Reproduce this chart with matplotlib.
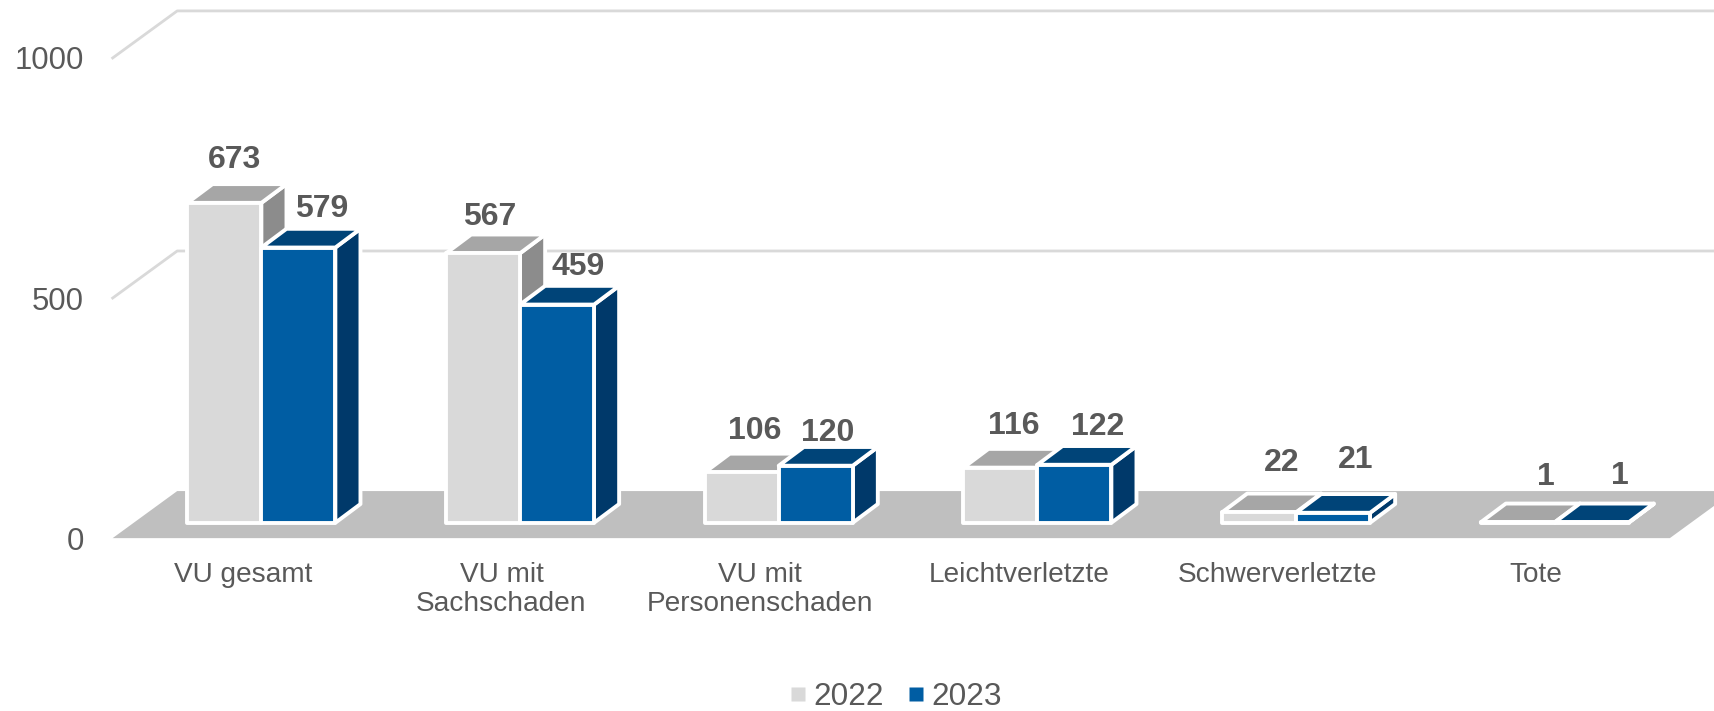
import matplotlib
matplotlib.use("Agg")
import matplotlib.pyplot as plt
from matplotlib.patches import Polygon
from matplotlib.lines import Line2D

categories = ["VU gesamt", "VU mit\nSachschaden", "VU mit\nPersonenschaden",
              "Leichtverletzte", "Schwerverletzte", "Tote"]
values_2022 = [673, 567, 106, 116, 22, 1]
values_2023 = [579, 459, 120, 122, 21, 1]
series_names = ["2022", "2023"]
y_ticks = [0, 500, 1000]

# label nudges (pixels of the figure, x right / y up from bar top centre)
S = 1715 / 1568
off_2022 = [(9, 39.5), (6, 33.5), (11.5, 37.5), (12, 38.5), (21, 45.5), (26, 41.5)]
off_2023 = [(21, 35.5), (19, 34.5), (11, 29.5), (21, 34.5), (21, 48.5), (26, 42.5)]

plt.rcParams["font.family"] = ["Liberation Sans", "DejaVu Sans"]
TXT = "#595959"
W, H = 1715, 711
fig = plt.figure(figsize=(W / 100, H / 100), dpi=100, facecolor="white")
left, right = 103 * S, W
bottom, top = 492 * S, 53 * S
ax = fig.add_axes([left / W, 1 - bottom / H, (right - left) / W, (bottom - top) / H])
step = 236.5 * S
ax.set_xlim(-0.503, -0.503 + (right - left) / step)
ax.set_ylim(0, 1000)
for sp in ax.spines.values():
    sp.set_visible(False)
ax.patch.set_alpha(0)

FLOOR_W = 6.02
FLOOR_DX, FLOOR_DY = 0.2495, 98
BAR_DX, BAR_DY = 0.097, 39
BAR_W = 0.286
BASE = 32
BAR_K = 0.99
X_LEFT = [-0.214, 0.072]
x_min, x_max = ax.get_xlim()

# floor and wall gridlines
ax.add_patch(Polygon([(x_min, 0), (x_min + FLOOR_W, 0),
                      (x_min + FLOOR_W + FLOOR_DX, FLOOR_DY), (x_min + FLOOR_DX, FLOOR_DY)],
                     closed=True, fc="#BFBFBF", ec="none", clip_on=False, zorder=1))
for t in y_ticks[1:]:
    ax.plot([x_min, x_min + FLOOR_DX, x_max], [t, t + FLOOR_DY, t + FLOOR_DY],
            color="#D9D9D9", lw=2.0, clip_on=False, zorder=1)

styles = [("#D9D9D9", "#A6A6A6", "#8C8C8C"), ("#005DA3", "#004478", "#00396A")]
edge = dict(ec="white", lw=2.8, joinstyle="round", clip_on=False)

for i in range(len(categories)):
    for s, (vals, offs) in enumerate([(values_2022, off_2022), (values_2023, off_2023)]):
        x0 = i + X_LEFT[s]
        x1 = x0 + BAR_W
        y1 = BASE + BAR_K * vals[i]
        front, topc, side = styles[s]
        z = 3 + s
        ax.add_patch(Polygon([(x1, BASE), (x1 + BAR_DX, BASE + BAR_DY), (x1 + BAR_DX, y1 + BAR_DY), (x1, y1)],
                             closed=True, fc=side, zorder=z, **edge))
        ax.add_patch(Polygon([(x0, y1), (x1, y1), (x1 + BAR_DX, y1 + BAR_DY), (x0 + BAR_DX, y1 + BAR_DY)],
                             closed=True, fc=topc, zorder=z, **edge))
        ax.add_patch(Polygon([(x0, BASE), (x1, BASE), (x1, y1), (x0, y1)],
                             closed=True, fc=front, zorder=z, **edge))
        ax.annotate(str(vals[i]), xy=((x0 + x1) / 2, y1),
                    xytext=(offs[i][0] * S, offs[i][1] * S), textcoords="offset pixels",
                    ha="center", va="center", fontsize=23, fontweight="bold",
                    color=TXT, zorder=10, annotation_clip=False)

ax.set_yticks(y_ticks)
ax.set_xticks(range(len(categories)))
ax.set_xticklabels(categories, fontsize=20.2, color=TXT, linespacing=1.15)
ax.tick_params(axis="x", length=0, pad=17)
ax.tick_params(axis="y", length=0, pad=20.5, labelsize=22.4, labelcolor=TXT)

handles = [Line2D([], [], marker="s", ls="", ms=9.4, mfc=styles[k][0], mec="none") for k in range(2)]
fig.legend(handles, series_names, loc="center", bbox_to_anchor=(818.5 * S / W, 1 - 637 * S / H),
           ncol=2, frameon=False, fontsize=22.7, labelcolor=TXT, handlelength=0.6,
           handletextpad=0.2, columnspacing=0.7, borderpad=0)

fig.savefig("out.png", dpi=100)
